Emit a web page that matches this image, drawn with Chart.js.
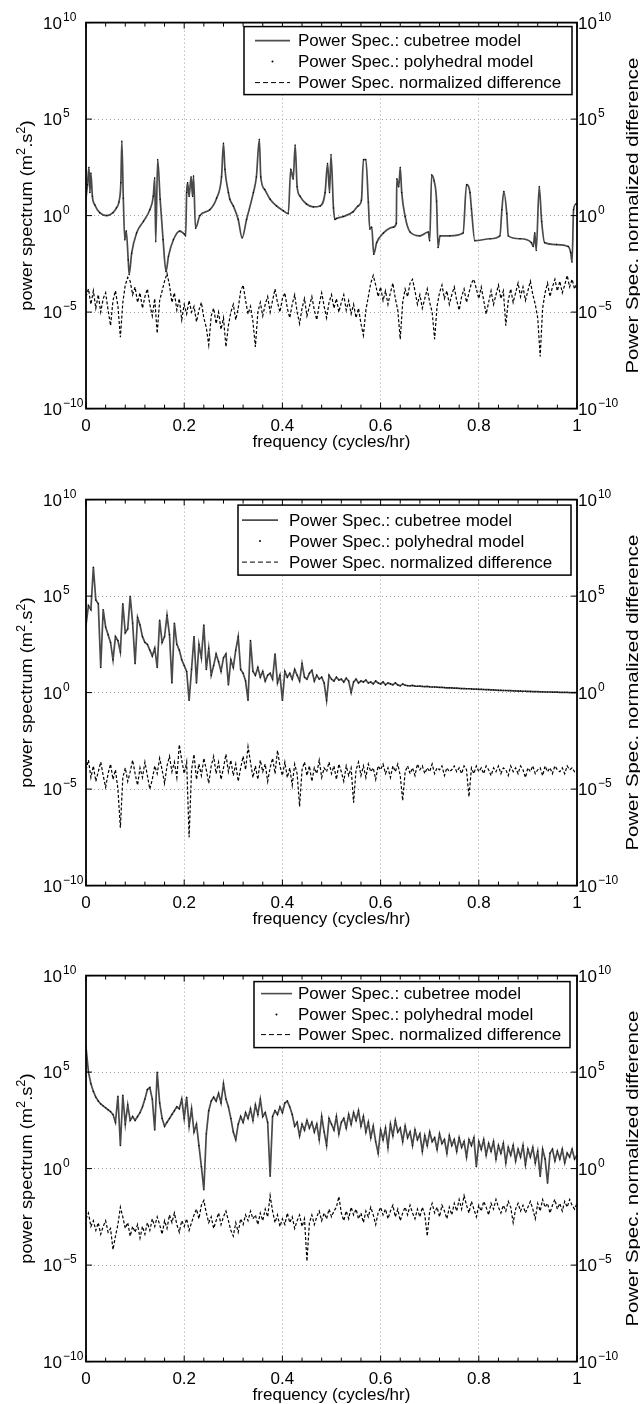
<!DOCTYPE html>
<html>
<head>
<meta charset="utf-8">
<script src="https://cdn.jsdelivr.net/npm/chart.js@4.4.1/dist/chart.umd.min.js"></script>
<style>
  html, body { margin: 0; padding: 0; background: #fff; }
  canvas { display: block; }
</style>
</head>
<body>
<canvas id="p1" width="640" height="477"></canvas>
<canvas id="p2" width="640" height="476"></canvas>
<canvas id="p3" width="640" height="451"></canvas>
<script>
const FONT = '"Liberation Sans", Arial, Helvetica, sans-serif';

const seriesNames = ['Power Spec.: cubetree model', 'Power Spec.: polyhedral model', 'Power Spec. normalized difference'];
const xTickValues = [0, 0.2, 0.4, 0.6, 0.8, 1];
const xTickLabels = ['0', '0.2', '0.4', '0.6', '0.8', '1'];
const xMinorStep = 0.04;
const yTickExps = [-10, -5, 0, 5, 10];
const xTitle = 'frequency (cycles/hr)';
const yTitleLeft = [['power spectrum (m', false], ['2', true], ['.s', false], ['2', true], [')', false]];
const yTitleRight = 'Power Spec. normalized difference';

// frequency bins (cycles/hr) of the evenly sampled spectra, step 0.005
const bins = Array.from({ length: 201 }, (_, i) => Math.round(i * 5) / 1000);

// all series below are log10 of the plotted value

// panel 1: cubetree spectrum (resonance peaks), irregular sample points
const p1CubeFreq = [0, 0.003, 0.006, 0.008, 0.010, 0.013, 0.018, 0.028, 0.042, 0.055, 0.062, 0.067, 0.071, 0.073, 0.076, 0.079, 0.082, 0.086, 0.088, 0.093,
  0.103, 0.117, 0.130, 0.137, 0.140, 0.142, 0.146, 0.151, 0.157, 0.163, 0.168, 0.178, 0.191, 0.200, 0.203, 0.205, 0.207, 0.210, 0.214, 0.217,
  0.219, 0.223, 0.232, 0.252, 0.266, 0.276, 0.280, 0.283, 0.290, 0.293, 0.300, 0.310, 0.318, 0.327, 0.341, 0.347, 0.353, 0.356, 0.364, 0.375,
  0.388, 0.402, 0.412, 0.417, 0.422, 0.426, 0.430, 0.436, 0.449, 0.463, 0.477, 0.487, 0.492, 0.496, 0.499, 0.504, 0.507, 0.510, 0.524, 0.544,
  0.554, 0.561, 0.565, 0.570, 0.575, 0.578, 0.582, 0.586, 0.592, 0.606, 0.626, 0.632, 0.633, 0.637, 0.640, 0.643, 0.650, 0.660, 0.680, 0.697,
  0.700, 0.704, 0.709, 0.714, 0.717, 0.721, 0.741, 0.768, 0.775, 0.782, 0.785, 0.792, 0.823, 0.843, 0.847, 0.851, 0.857, 0.860, 0.884, 0.907,
  0.911, 0.914, 0.917, 0.923, 0.928, 0.934, 0.958, 0.982, 0.987, 0.990, 0.993, 0.998, 1.000];
const p1CubeLog = [0.9, 1.6, 2.5, 1.2, 2.2, 1.0, 0.55, 0.15, 0.0, 0.15, 0.4, 0.7, 1.7, 3.85, 0.9, -1.25, -0.8, -2.3, -3.05, -1.95,
  -0.9, -0.3, 0.3, 1.0, 1.95, -1.35, 2.9, 0.85, -1.25, -2.9, -2.1, -1.25, -0.8, -0.95, -1.05, 1.2, 1.7, 1.0, 2.0, 1.0,
  2.05, -0.65, 0.0, 0.3, 0.9, 2.0, 3.75, 2.4, 1.2, 0.85, 0.5, -0.2, -1.15, -0.2, 1.2, 2.0, 3.95, 2.0, 1.35, 0.85,
  0.5, 0.25, 0.1, 2.4, 1.9, 3.65, 1.5, 1.0, 0.6, 0.45, 0.5, 1.2, 2.7, 1.2, 3.15, 0.4, -0.2, -0.15, -0.05, 0.2,
  0.5, 0.8, 2.9, 2.9, 0.7, -0.7, -0.6, -2.0, -1.4, -0.9, -0.6, -0.4, 1.9, 1.5, 2.5, 1.2, -0.05, -0.85, -1.05, -0.85,
  -1.3, 2.1, 1.8, 0.75, -1.65, -1.05, -1.05, -0.9, 1.6, 1.2, 0.35, -1.3, -1.2, -1.05, 0.3, 1.25, 0.1, -1.05, -1.2, -1.4,
  -1.6, -0.9, -1.8, 1.5, -0.3, -1.4, -1.5, -1.6, -1.9, -2.4, 0.3, 0.6, 0.6];
const p1DiffLog = [
  -4.2, -3.8, -4.6, -3.9, -4.8, -4.1, -5.0, -4.3, -4.0, -4.9,
  -5.7, -4.4, -3.9, -4.7, -6.3, -4.5, -3.6, -3.2, -3.4, -4.1,
  -3.7, -4.5, -4.0, -4.8, -4.2, -3.8, -4.6, -5.2, -4.3, -6.1,
  -4.4, -3.9, -3.4, -3.0, -3.6, -4.5, -4.0, -4.9, -4.3, -5.4,
  -4.6, -5.1, -4.4, -5.0, -4.7, -5.5, -4.9, -4.5, -5.3, -5.8,
  -6.7, -5.2, -4.8, -5.6, -5.0, -5.9, -5.3, -6.8, -5.7, -5.0,
  -4.6, -5.4, -4.8, -3.9, -3.6, -4.4, -5.1, -4.7, -5.5, -6.8,
  -5.0, -4.5, -5.2, -4.6, -4.2, -5.0, -4.4, -3.8, -4.5, -5.0,
  -4.3, -4.0, -4.8, -5.3, -4.6, -4.1, -5.0, -5.6, -4.8, -4.3,
  -5.2, -4.7, -4.2, -4.9, -5.4, -4.6, -4.0, -4.7, -5.3, -4.5,
  -4.1, -4.8, -4.3, -5.0, -4.5, -4.1, -4.9, -4.4, -5.1, -4.6,
  -5.3, -4.8, -5.6, -6.2, -4.9, -4.2, -3.5, -3.1, -3.6, -4.2,
  -3.7, -4.4, -3.9, -4.6, -4.0, -3.5, -4.3, -4.9, -6.4, -4.5,
  -3.8, -4.2, -3.5, -3.3, -3.9, -4.6, -4.1, -4.8, -4.3, -3.8,
  -4.5, -5.0, -6.4, -4.7, -4.0, -3.6, -4.3, -3.9, -4.6, -4.1,
  -3.7, -4.4, -4.9, -4.2, -3.8, -4.5, -4.0, -3.5, -3.3, -3.8,
  -4.3, -3.7, -4.4, -5.1, -4.5, -3.9, -4.6, -4.1, -3.6, -4.3,
  -3.9, -5.7, -4.4, -3.8, -4.5, -4.0, -3.5, -4.2, -3.7, -4.4,
  -3.9, -3.4, -4.1, -4.6, -5.3, -7.3, -4.8, -4.0, -3.5, -4.2,
  -3.7, -3.3, -3.9, -3.4, -4.0, -3.6, -3.1, -3.7, -3.3, -3.8,
  -3.5];

// panel 2
const p2CubeLog = [
  3.5, 4.5, 4.3, 6.5, 4.8, 4.6, 1.3, 4.3, 3.4, 3.0,
  2.6, 1.7, 2.9, 2.7, 2.1, 4.6, 3.1, 3.3, 5.0, 3.6,
  1.5, 3.9, 3.5, 2.9, 2.6, 2.5, 2.2, 1.9, 2.3, 1.3,
  3.75, 2.6, 2.9, 4.0, 3.0, 0.5, 3.6, 2.5, 2.2, 1.7,
  1.4, 1.1, -0.4, 1.2, 2.9, 0.5, 2.5, 1.8, 3.5, 1.2,
  2.3, 0.9, 1.4, 2.0, 1.6, 1.1, 1.8, 2.0, 0.4, 1.7,
  1.3, 2.2, 2.9, 1.2, 1.0, 0.6, -0.4, 2.7, 1.1, 0.9,
  1.3, 0.8, 1.1, 0.6, 0.9, 1.0, 0.7, 2.0, 0.5, 0.9,
  -0.4, 1.1, 0.8, 1.0, 0.7, 1.2, 0.9, 0.6, 1.5, 0.8,
  0.7, 1.0, 1.15, 0.6, 0.9, 0.7, 0.8, 0.5, -0.4, 0.9,
  0.7, 0.6, 0.8, 0.65, 0.7, 0.55, 0.75, 0.6, 0.0, 0.55,
  0.7, 0.5, 0.6, 0.55, 0.65, 0.5, 0.55, 0.45, 0.6, 0.5,
  0.45, 0.55, 0.4, 0.5, 0.45, 0.4, 0.5, 0.4, 0.35, 0.45,
  0.38, 0.36, 0.35, 0.37, 0.34, 0.33, 0.34, 0.32, 0.31, 0.32,
  0.30, 0.29, 0.29, 0.28, 0.27, 0.27, 0.26, 0.25, 0.25, 0.24,
  0.23, 0.23, 0.22, 0.21, 0.21, 0.20, 0.20, 0.19, 0.18, 0.18,
  0.17, 0.17, 0.16, 0.15, 0.15, 0.14, 0.14, 0.13, 0.12, 0.12,
  0.11, 0.11, 0.10, 0.10, 0.09, 0.09, 0.08, 0.08, 0.07, 0.07,
  0.06, 0.06, 0.05, 0.05, 0.05, 0.04, 0.04, 0.03, 0.03, 0.03,
  0.02, 0.02, 0.02, 0.01, 0.01, 0.01, 0.01, 0.0, 0.0, 0.0,
  0.0];
const p2DiffLog = [
  -4.0, -3.5, -4.4, -3.8, -4.6, -4.1, -3.6, -4.3, -4.9, -4.2,
  -3.7, -4.5, -4.0, -5.0, -7.0, -4.4, -3.9, -4.6, -4.1, -3.5,
  -4.2, -4.8, -3.9, -4.4, -3.6, -4.3, -5.0, -4.5, -3.8, -4.2,
  -3.4, -4.0, -4.7, -3.8, -3.3, -4.1, -3.6, -4.4, -2.7, -3.5,
  -4.2, -3.6, -7.5, -4.0, -3.2, -4.5, -3.7, -4.3, -3.4, -4.0,
  -4.7, -3.8, -3.3, -4.2, -3.6, -4.5, -3.9, -3.2, -4.1, -3.5,
  -4.3, -3.7, -4.6, -3.9, -3.3, -4.0, -2.8, -3.6, -4.4, -3.8,
  -4.5, -3.5, -4.1, -3.7, -4.6, -3.9, -3.4, -4.2, -3.0, -3.8,
  -4.3, -3.6, -4.4, -3.9, -4.8, -3.7, -4.2, -5.9, -4.0, -3.6,
  -4.3, -3.8, -4.6, -3.9, -4.2, -3.5, -4.4, -3.9, -4.1, -3.6,
  -4.2, -3.8, -4.5, -3.7, -4.1, -4.6, -3.8, -4.3, -3.9, -5.7,
  -4.0, -3.6, -4.3, -3.8, -4.4, -3.7, -4.1, -3.9, -4.5, -3.8,
  -4.0, -3.7, -4.2, -3.9, -4.4, -3.8, -4.1, -3.7, -4.3, -5.6,
  -4.1, -3.8, -4.2, -3.9, -4.3, -3.7, -4.0, -3.8, -4.2, -3.9,
  -4.1, -3.7, -4.2, -3.9, -4.0, -3.8, -4.3, -3.9, -4.1, -4.0,
  -3.8, -4.1, -3.9, -4.2, -3.8, -4.0, -5.4, -3.9, -4.2, -3.8,
  -4.1, -3.9, -4.2, -3.8, -4.0, -4.3, -3.9, -4.1, -3.8, -4.2,
  -3.9, -4.0, -4.3, -3.8, -4.1, -3.9, -4.2, -3.8, -4.0, -4.4,
  -3.9, -4.1, -3.8, -4.2, -4.0, -3.9, -4.3, -3.8, -4.1, -3.9,
  -4.2, -3.8, -4.0, -4.1, -3.9, -4.2, -3.8, -4.0, -3.9, -4.1,
  -4.0];

// panel 3
const p3CubeLog = [
  6.3, 5.0, 4.4, 4.0, 3.7, 3.5, 3.35, 3.25, 3.15, 3.05,
  2.95, 2.8, 2.4, 3.75, 1.2, 3.8, 2.3, 3.3, 2.5, 2.7,
  2.5, 2.7, 2.9, 3.2, 3.6, 4.1, 4.2, 3.6, 2.0, 5.0,
  3.4, 2.6, 2.2, 2.4, 2.6, 2.8, 3.0, 3.2, 3.1, 3.6,
  2.6, 3.7, 2.2, 3.1, 1.9, 2.3, 1.2, 0.1, -1.1, 1.8,
  3.0, 3.5, 3.7, 3.5, 3.9, 3.4, 4.4, 3.6, 3.2, 2.6,
  1.9, 1.5, 2.3, 2.7, 2.4, 2.9, 2.6, 3.1, 2.5, 3.3,
  2.8, 3.6, 2.7, 2.9, 2.4, -0.4, 2.7, 3.0, 2.8, 3.2,
  2.9, 3.4, 3.5, 3.2, 2.8, 2.2, 2.4, 1.7, 2.3, 2.0,
  2.5, 2.1, 2.4, 1.9, 2.3, 1.5, 2.7, 1.9, 1.2, 2.6,
  2.3, 2.0, 2.7, 1.8, 2.4, 2.6, 2.1, 2.8, 2.3, 2.9,
  2.5, 3.0, 2.2, 2.7, 1.9, 2.4, 1.6, 2.2, 1.4, 0.8,
  2.0, 1.5, 2.1, 1.1, 2.3, 1.7, 2.5, 1.9, 2.1, 1.4,
  2.2, 1.6, 1.9, 1.2, 2.0, 1.5, 1.8, 0.9, 1.7, 1.2,
  1.9, 1.4, 1.6, 1.0, 1.8, 1.3, 1.5, 0.8, 1.7, 1.2,
  1.5, 0.9, 1.6, 1.1, 1.4, 0.6, 1.5, 1.2, 1.6, 0.1,
  1.4, 1.0, 1.5, 0.7, 1.3, 0.9, 1.4, 0.5, 1.2, 0.8,
  1.3, 0.3, 1.1, 0.7, 1.2, 0.4, 1.0, 0.6, 1.2, 0.2,
  1.0, 0.6, 1.1, 0.3, 0.9, -0.4, 1.0, 0.5, -0.75, 0.8,
  1.0, 0.4, 0.9, 0.5, 1.0, 0.3, 0.8, 0.6, 1.0, 0.5,
  0.7];
const p3DiffLog = [
  -2.6, -2.3, -3.0, -2.7, -3.2, -2.8, -3.4, -3.0, -2.7, -3.3,
  -3.1, -4.2, -3.5, -2.9, -2.0, -2.5, -3.1, -2.8, -3.5, -3.0,
  -3.3, -2.9, -3.6, -3.0, -3.4, -2.8, -3.2, -2.6, -3.0, -2.5,
  -2.9, -3.4, -2.7, -3.1, -2.4, -2.8, -2.3, -2.9, -3.3, -2.7,
  -3.0, -2.6, -3.2, -2.8, -2.4, -2.1, -2.6, -1.9, -1.65, -2.3,
  -2.8, -2.5, -3.1, -2.7, -2.3, -2.9, -2.5, -2.2, -2.7, -3.2,
  -3.5, -2.8, -3.3, -2.6, -2.9, -2.4, -2.7, -2.2, -2.6, -2.4,
  -2.9, -2.3, -2.7, -2.1, -2.5, -1.4, -2.2, -2.8, -2.4, -3.0,
  -2.6, -2.9, -2.3, -2.8, -2.5, -3.1, -2.7, -2.4, -3.0, -2.6,
  -4.8, -2.8, -2.4, -2.9, -2.5, -2.2, -2.7, -2.3, -2.6, -2.1,
  -2.5, -2.2, -2.0, -1.45, -2.3, -2.7, -2.2, -2.6, -2.0, -2.4,
  -2.1, -2.6, -2.3, -2.8, -2.2, -2.5, -2.0, -2.4, -2.9, -2.3,
  -2.0, -2.4, -2.1, -2.6, -2.2, -1.9, -2.5, -2.1, -2.7, -2.3,
  -2.0, -2.4, -1.9, -2.3, -2.6, -2.1, -2.5, -2.0, -2.4, -3.5,
  -2.2, -1.8, -2.3, -2.0, -2.5, -1.9, -2.2, -2.6, -2.0, -2.4,
  -1.8, -2.2, -1.6, -2.1, -1.4, -1.9, -2.3, -1.7, -2.1, -2.5,
  -1.9, -2.2, -1.7, -2.0, -2.4, -1.8, -2.1, -1.6, -2.0, -2.3,
  -1.9, -2.2, -1.7, -2.0, -2.8, -2.1, -1.8, -2.2, -1.9, -2.3,
  -2.0, -1.7, -2.1, -2.6, -1.8, -2.2, -1.6, -2.0, -1.8, -2.3,
  -1.9, -1.6, -2.1, -1.8, -2.2, -1.7, -2.0, -1.6, -1.9, -2.1,
  -1.8];

// layout of each panel (plot area is 86..577 px wide, 386 px tall)
const PLOT_TOP = 22.6;
const PLOT_H = 386;
const panels = [
  { id: 'p1', cubeX: p1CubeFreq, cubeLog: p1CubeLog, diffLog: p1DiffLog, smooth: true,
    legend: { left: 244, right: 572, top: 4, bottom: 72, rows: [18, 39, 60], line0: 255, line1: 290, textX: 298 } },
  { id: 'p2', cubeX: bins, cubeLog: p2CubeLog, diffLog: p2DiffLog, smooth: false,
    legend: { left: 238, right: 571, top: 5.5, bottom: 75.5, rows: [20.5, 41.5, 62.5], line0: 242, line1: 278, textX: 289 } },
  { id: 'p3', cubeX: bins, cubeLog: p3CubeLog, diffLog: p3DiffLog, smooth: false,
    legend: { left: 254, right: 570, top: 6, bottom: 72, rows: [18, 39, 59], line0: 261, line1: 292, textX: 298 } }
];

function toPoints(xs, logs) {
  return logs.map((v, i) => ({ x: xs[i], y: Math.pow(10, v) }));
}

function drawPow(ctx, x, y, exp, align) {
  // "10" with a raised exponent; align = 'right' means "10" ends at x
  ctx.font = '17px ' + FONT;
  const w = ctx.measureText('10').width;
  const x0 = align === 'right' ? x - w : x;
  ctx.textAlign = 'left';
  ctx.textBaseline = 'alphabetic';
  ctx.fillText('10', x0, y + 6);
  ctx.font = '12px ' + FONT;
  ctx.fillText(String(exp).replace('-', '\u2212'), x0 + w + 1, y - 2);
}

function drawRich(ctx, runs, cx, baseY) {
  const parts = runs.map(([t, sup]) => {
    ctx.font = (sup ? '12px ' : '17px ') + FONT;
    return { t, sup, w: ctx.measureText(t).width };
  });
  const total = parts.reduce((s, p) => s + p.w, 0);
  let x = cx - total / 2;
  ctx.textAlign = 'left';
  ctx.textBaseline = 'alphabetic';
  for (const p of parts) {
    ctx.font = (p.sup ? '12px ' : '17px ') + FONT;
    ctx.fillText(p.t, x, p.sup ? baseY - 7 : baseY);
    x += p.w;
  }
}

const matlabAxes = {
  id: 'matlabAxes',
  afterDraw(chart, args, opts) {
    const { ctx, chartArea: a, scales } = chart;
    const sx = scales.x, sy = scales.y;
    ctx.save();
    ctx.fillStyle = '#000';
    ctx.strokeStyle = '#000';

    // inward tick marks
    ctx.lineWidth = 1;
    ctx.beginPath();
    for (let i = 0; i <= Math.round(1 / xMinorStep); i++) {
      const px = sx.getPixelForValue(i * xMinorStep);
      const len = i % 5 === 0 ? 6 : 4;
      ctx.moveTo(px, a.bottom); ctx.lineTo(px, a.bottom - len);
      ctx.moveTo(px, a.top); ctx.lineTo(px, a.top + len);
    }
    for (const e of yTickExps) {
      const py = sy.getPixelForValue(Math.pow(10, e));
      ctx.moveTo(a.left, py); ctx.lineTo(a.left + 6, py);
      ctx.moveTo(a.right, py); ctx.lineTo(a.right - 6, py);
    }
    ctx.stroke();

    // frame
    ctx.lineWidth = 1.8;
    ctx.strokeRect(a.left, a.top, a.right - a.left, a.bottom - a.top);

    // x tick labels and title
    ctx.font = '17px ' + FONT;
    ctx.textAlign = 'center';
    ctx.textBaseline = 'alphabetic';
    xTickValues.forEach((v, i) => {
      ctx.fillText(xTickLabels[i], sx.getPixelForValue(v), a.bottom + 22);
    });
    ctx.fillText(xTitle, (a.left + a.right) / 2, a.bottom + 38);

    // y tick labels, both sides
    for (const e of yTickExps) {
      const py = sy.getPixelForValue(Math.pow(10, e));
      drawPow(ctx, a.left - 24, py, e, 'right');
      drawPow(ctx, a.right + 1, py, e, 'left');
    }

    // y titles (the figure's rotated labels run a little longer than the horizontal text)
    const cy = (a.top + a.bottom) / 2;
    ctx.save();
    ctx.translate(32, cy);
    ctx.rotate(-Math.PI / 2);
    ctx.scale(1.07, 1);
    drawRich(ctx, yTitleLeft, 0, 0);
    ctx.restore();
    ctx.save();
    ctx.translate(638, cy);
    ctx.rotate(-Math.PI / 2);
    ctx.scale(1.2, 1);
    ctx.font = '17px ' + FONT;
    ctx.textAlign = 'center';
    ctx.textBaseline = 'alphabetic';
    ctx.fillText(yTitleRight, 0, 0);
    ctx.restore();

    // legend box
    const L = opts.legend;
    const top = a.top + L.top, bottom = a.top + L.bottom;
    ctx.fillStyle = '#fff';
    ctx.fillRect(L.left, top, L.right - L.left, bottom - top);
    ctx.lineWidth = 1.5;
    ctx.strokeStyle = '#000';
    ctx.strokeRect(L.left, top, L.right - L.left, bottom - top);
    const rows = L.rows.map(r => a.top + r);
    // samples
    ctx.beginPath();
    ctx.strokeStyle = '#4d4d4d';
    ctx.lineWidth = 1.6;
    ctx.moveTo(L.line0, rows[0]); ctx.lineTo(L.line1, rows[0]);
    ctx.stroke();
    ctx.fillStyle = '#000';
    ctx.beginPath();
    ctx.arc((L.line0 + L.line1) / 2, rows[1], 1, 0, Math.PI * 2);
    ctx.fill();
    ctx.beginPath();
    ctx.strokeStyle = '#000';
    ctx.lineWidth = 1;
    ctx.setLineDash([5, 3]);
    ctx.moveTo(L.line0, rows[2]); ctx.lineTo(L.line1, rows[2]);
    ctx.stroke();
    ctx.setLineDash([]);
    ctx.font = '17px ' + FONT;
    ctx.textAlign = 'left';
    ctx.textBaseline = 'middle';
    seriesNames.forEach((n, i) => ctx.fillText(n, L.textX, rows[i] + 1));
    ctx.restore();
  }
};

function makePanel(p) {
  const canvas = document.getElementById(p.id);
  const H = canvas.height;
  const cube = toPoints(p.cubeX, p.cubeLog);
  const logAxis = (pos) => ({
    type: 'logarithmic',
    position: pos,
    min: 1e-10,
    max: 1e10,
    ticks: { display: false },
    afterBuildTicks(s) { s.ticks = yTickExps.map(e => ({ value: Math.pow(10, e) })); },
    grid: { display: pos === 'left', color: '#a0a0a0', lineWidth: 1, drawTicks: false },
    border: { display: false, dash: [1, 3] },
    afterFit(s) { s.width = pos === 'left' ? 86 : 63; }
  });
  new Chart(canvas, {
    type: 'line',
    data: {
      datasets: [
        { label: seriesNames[1], data: cube, showLine: false, pointRadius: 0.7, pointBorderWidth: 0,
          pointBackgroundColor: '#000', yAxisID: 'y' },
        { label: seriesNames[0], data: cube, borderColor: '#4a4a4a', borderWidth: 1.7, pointRadius: 0,
          cubicInterpolationMode: p.smooth ? 'monotone' : 'default', tension: 0, yAxisID: 'y' },
        { label: seriesNames[2], data: toPoints(bins, p.diffLog), borderColor: '#000', borderWidth: 1.2,
          borderDash: [3, 2], pointRadius: 0, yAxisID: 'y2' }
      ]
    },
    options: {
      responsive: false,
      animation: false,
      devicePixelRatio: 1,
      layout: { padding: { top: PLOT_TOP, bottom: 0, left: 0, right: 0 } },
      scales: {
        x: {
          type: 'linear',
          min: 0,
          max: 1,
          ticks: { display: false, stepSize: 0.2 },
          grid: { color: '#a0a0a0', lineWidth: 1, drawTicks: false },
          border: { display: false, dash: [1, 3] },
          afterFit(s) { s.height = H - PLOT_TOP - PLOT_H; }
        },
        y: logAxis('left'),
        y2: logAxis('right')
      },
      plugins: {
        legend: { display: false },
        tooltip: { enabled: false },
        matlabAxes: { legend: p.legend }
      }
    },
    plugins: [matlabAxes]
  });
}

panels.forEach(makePanel);
</script>
</body>
</html>
